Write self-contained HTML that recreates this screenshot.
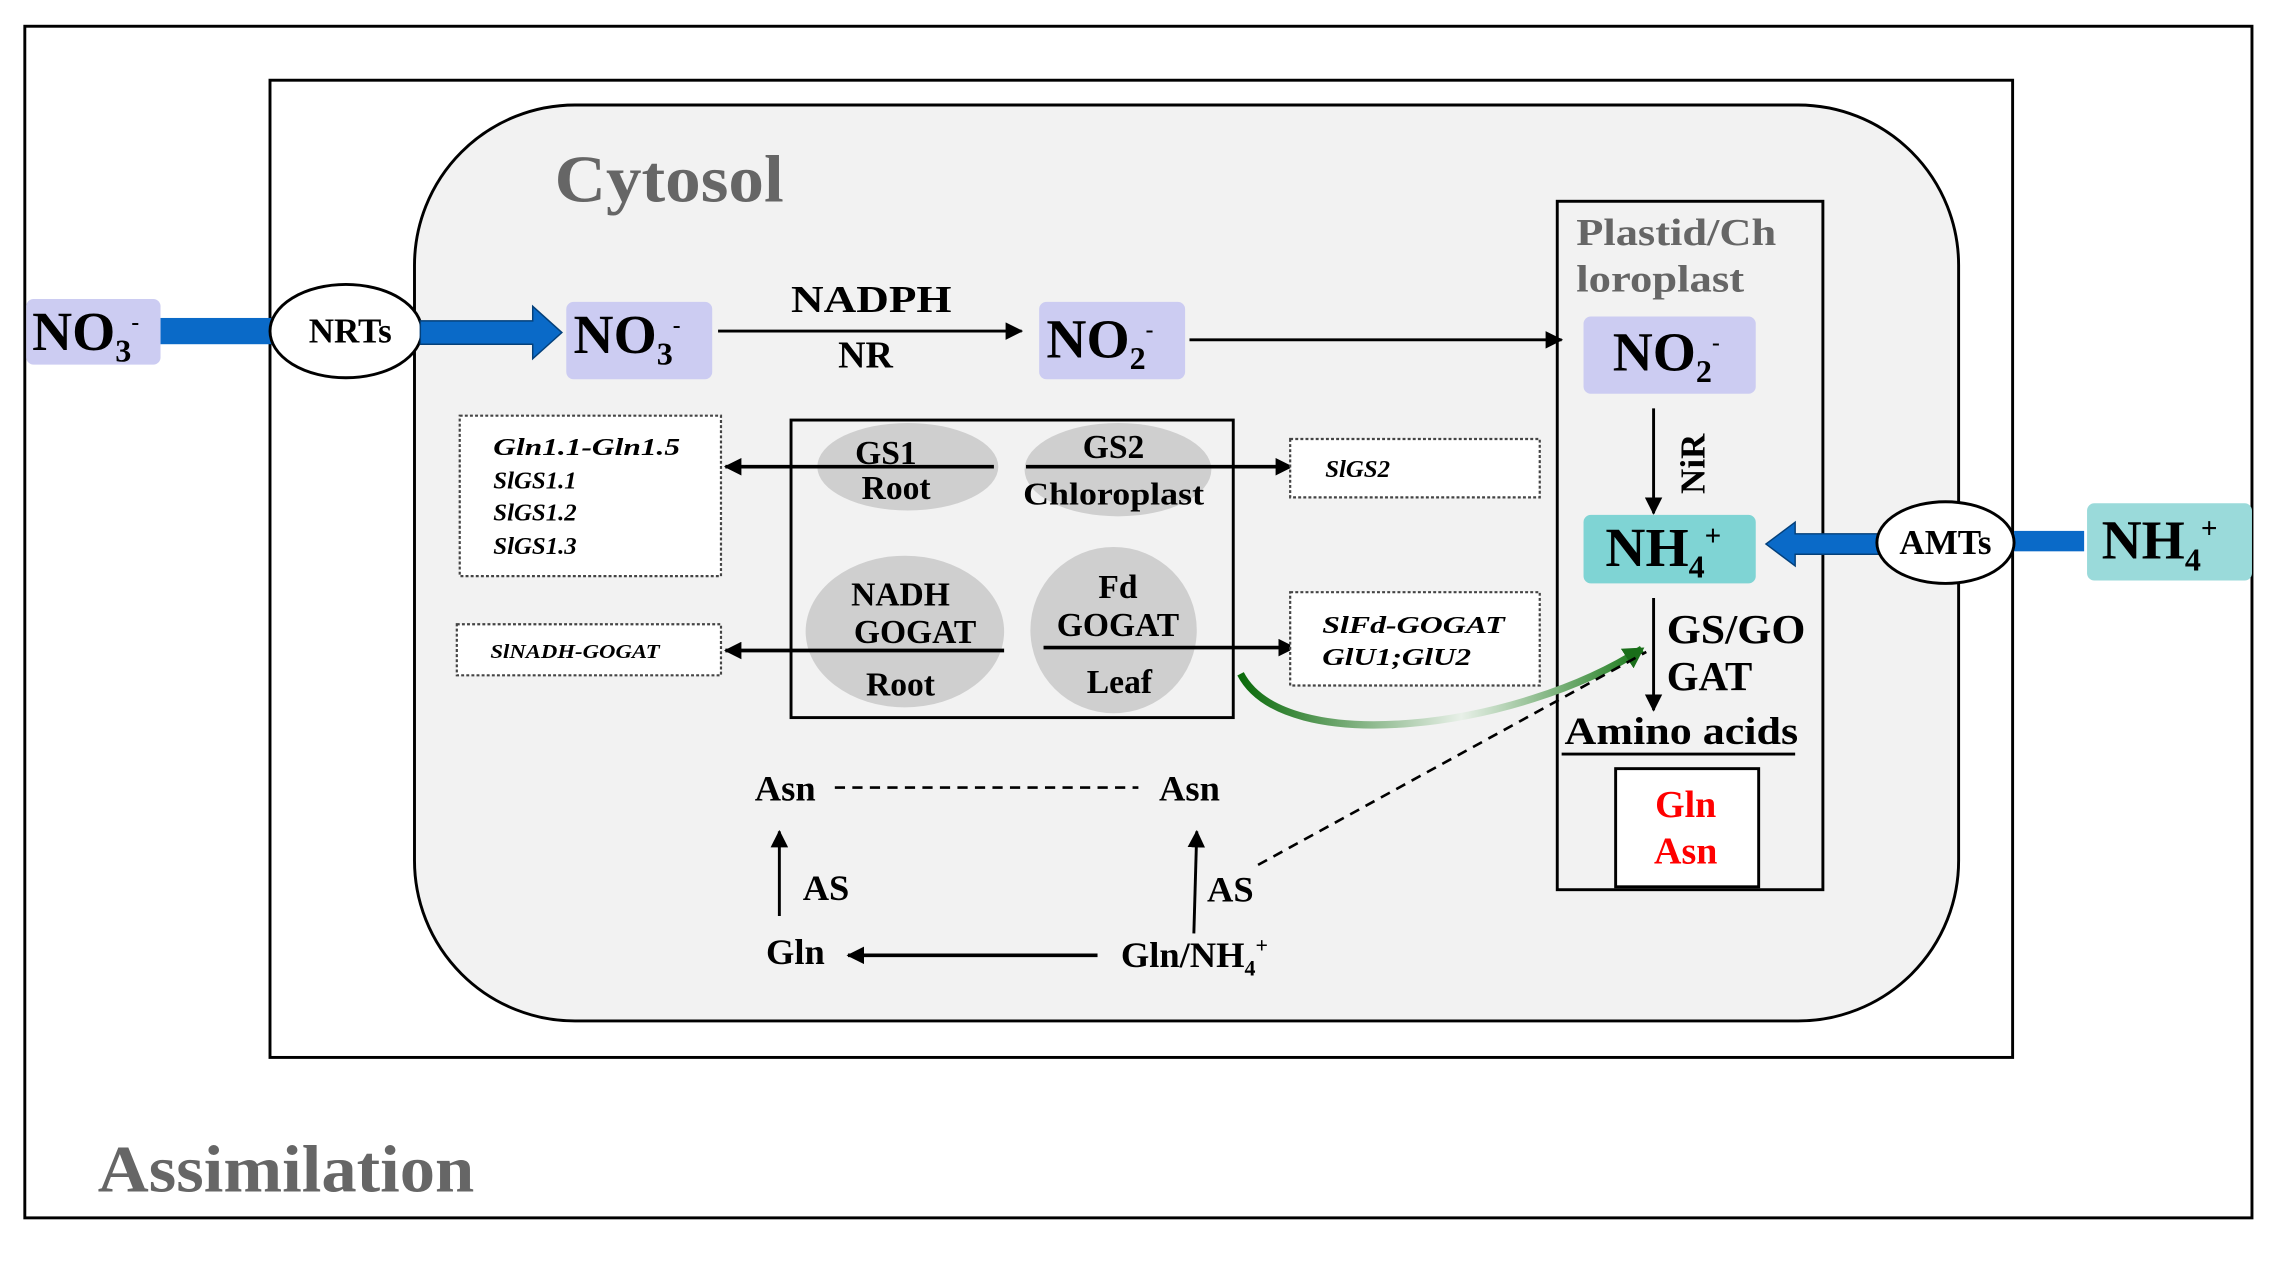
<!DOCTYPE html>
<html><head><meta charset="utf-8"><style>html,body{margin:0;padding:0;background:#fff}svg{display:block}text{}</style></head>
<body>
<svg width="2287" height="1266" viewBox="0 0 1567 868" preserveAspectRatio="none" xmlns="http://www.w3.org/2000/svg" font-family="'Liberation Serif',serif" font-weight="bold">
<defs>
<marker id="ah" markerWidth="12" markerHeight="12" refX="11" refY="6" orient="auto" markerUnits="userSpaceOnUse"><path d="M0,0 L12,6 L0,12 Z" fill="#000"/></marker>
<marker id="ag" markerWidth="16" markerHeight="16" refX="12" refY="8" orient="auto" markerUnits="userSpaceOnUse"><path d="M0,0 L14,8 L0,16 Z" fill="#1a6e1a"/></marker>
<linearGradient id="gg" x1="0" x2="1"><stop offset="0" stop-color="#0a6a0a"/><stop offset="0.55" stop-color="#e8f0e8"/><stop offset="1" stop-color="#1a7a1a"/></linearGradient>
</defs>
<rect x="17" y="18" width="1526" height="817" fill="#fff" stroke="#000" stroke-width="2"/>
<rect x="185" y="55" width="1194" height="670" fill="#fff" stroke="#000" stroke-width="2"/>
<rect x="284" y="72" width="1058" height="628" rx="110" fill="#f2f2f2" stroke="#000" stroke-width="2"/>
<text x="380" y="138" font-size="46" fill="#666" textLength="157" lengthAdjust="spacingAndGlyphs">Cytosol</text>
<rect x="1067" y="138" width="182" height="472" fill="none" stroke="#000" stroke-width="2"/>
<text x="1080" y="168" font-size="26" fill="#666" textLength="137" lengthAdjust="spacingAndGlyphs">Plastid/Ch</text>
<text x="1080" y="200" font-size="26" fill="#666" textLength="115" lengthAdjust="spacingAndGlyphs">loroplast</text>

<rect x="18" y="205" width="92" height="45" rx="5" fill="#ccccf2"/>
<text x="22" y="240" font-size="38">NO<tspan font-size="22" dy="8">3</tspan><tspan font-size="16" dy="-22">-</tspan></text>
<rect x="110" y="218" width="78" height="18" fill="#0a6ac8"/>
<ellipse cx="237" cy="227" rx="52" ry="32" fill="#fff" stroke="#000" stroke-width="2"/>
<text x="240" y="235" font-size="24" text-anchor="middle">NRTs</text>
<path d="M288,220 L365,220 L365,210 L385,228 L365,246 L365,236 L288,236 Z" fill="#0a6ac8" stroke="#04407a" stroke-width="1"/>
<rect x="388" y="207" width="100" height="53" rx="5" fill="#ccccf2"/>
<text x="393" y="242" font-size="38">NO<tspan font-size="22" dy="8">3</tspan><tspan font-size="16" dy="-22">-</tspan></text>
<text x="542" y="214" font-size="26" textLength="110" lengthAdjust="spacingAndGlyphs">NADPH</text>
<text x="593" y="252" font-size="26" text-anchor="middle">NR</text>
<line x1="492" y1="227" x2="700" y2="227" stroke="#000" stroke-width="2" marker-end="url(#ah)"/>
<rect x="712" y="207" width="100" height="53" rx="5" fill="#ccccf2"/>
<text x="717" y="245" font-size="38">NO<tspan font-size="22" dy="8">2</tspan><tspan font-size="16" dy="-22">-</tspan></text>
<line x1="815" y1="233" x2="1070" y2="233" stroke="#000" stroke-width="2" marker-end="url(#ah)"/>
<rect x="1085" y="217" width="118" height="53" rx="5" fill="#ccccf2"/>
<text x="1105" y="254" font-size="38">NO<tspan font-size="22" dy="8">2</tspan><tspan font-size="16" dy="-22">-</tspan></text>
<line x1="1133" y1="280" x2="1133" y2="352" stroke="#000" stroke-width="2" marker-end="url(#ah)"/>
<text x="1160" y="318" font-size="24" transform="rotate(-90 1160 318)" text-anchor="middle" dy="8">NiR</text>
<rect x="1085" y="353" width="118" height="47" rx="5" fill="#7fd4d4"/>
<text x="1100" y="388" font-size="38">NH<tspan font-size="22" dy="8">4</tspan><tspan font-size="20" dy="-22">+</tspan></text>
<path d="M1288,366 L1230,366 L1230,358 L1210,373 L1230,388 L1230,380 L1288,380 Z" fill="#0a6ac8" stroke="#04407a" stroke-width="1"/>
<rect x="1380" y="364" width="48" height="14" fill="#0a6ac8"/>
<ellipse cx="1333" cy="372" rx="47" ry="28" fill="#fff" stroke="#000" stroke-width="2"/>
<text x="1333" y="380" font-size="24" text-anchor="middle">AMTs</text>
<rect x="1430" y="345" width="113" height="53" rx="5" fill="#9adada"/>
<text x="1440" y="383" font-size="38">NH<tspan font-size="22" dy="8">4</tspan><tspan font-size="20" dy="-22">+</tspan></text>

<line x1="1133" y1="410" x2="1133" y2="487" stroke="#000" stroke-width="2" marker-end="url(#ah)"/>
<text x="1142" y="441" font-size="28" textLength="95" lengthAdjust="spacingAndGlyphs">GS/GO</text>
<text x="1142" y="473" font-size="28">GAT</text>
<text x="1072" y="510" font-size="27" textLength="160" lengthAdjust="spacingAndGlyphs">Amino acids</text>
<line x1="1070" y1="517" x2="1230" y2="517" stroke="#000" stroke-width="2"/>
<rect x="1107" y="527" width="98" height="81" fill="#fff" stroke="#000" stroke-width="2"/>
<text x="1155" y="560" font-size="26" fill="#f00" text-anchor="middle">Gln</text>
<text x="1155" y="592" font-size="26" fill="#f00" text-anchor="middle">Asn</text>

<rect x="542" y="288" width="303" height="204" fill="#f2f2f2" stroke="#000" stroke-width="2"/>
<ellipse cx="622" cy="320" rx="62" ry="30" fill="#cfcfcf"/>
<ellipse cx="766" cy="322" rx="64" ry="32" fill="#cfcfcf"/>
<ellipse cx="620" cy="433" rx="68" ry="52" fill="#cfcfcf"/>
<ellipse cx="763" cy="432" rx="57" ry="57" fill="#cfcfcf"/>
<text x="607" y="318" font-size="23" text-anchor="middle">GS1</text>
<text x="614" y="342" font-size="23" text-anchor="middle">Root</text>
<text x="763" y="314" font-size="23" text-anchor="middle">GS2</text>
<text x="701" y="346" font-size="22" textLength="124" lengthAdjust="spacingAndGlyphs">Chloroplast</text>
<text x="617" y="415" font-size="23" text-anchor="middle">NADH</text>
<text x="627" y="441" font-size="23" text-anchor="middle">GOGAT</text>
<text x="617" y="477" font-size="23" text-anchor="middle">Root</text>
<text x="766" y="410" font-size="23" text-anchor="middle">Fd</text>
<text x="766" y="436" font-size="23" text-anchor="middle">GOGAT</text>
<text x="767" y="475" font-size="23" text-anchor="middle">Leaf</text>
<line x1="681" y1="320" x2="497" y2="320" stroke="#000" stroke-width="2.5" marker-end="url(#ah)"/>
<line x1="703" y1="320" x2="885" y2="320" stroke="#000" stroke-width="2.5" marker-end="url(#ah)"/>
<line x1="688" y1="446" x2="497" y2="446" stroke="#000" stroke-width="2.5" marker-end="url(#ah)"/>
<line x1="715" y1="444" x2="887" y2="444" stroke="#000" stroke-width="2.5" marker-end="url(#ah)"/>

<g fill="#fff" stroke="#444" stroke-width="1.5" stroke-dasharray="2,1.5">
<rect x="315" y="285" width="179" height="110"/>
<rect x="884" y="301" width="171" height="40"/>
<rect x="313" y="428" width="181" height="35"/>
<rect x="884" y="406" width="171" height="64"/>
</g>
<g font-style="italic" font-size="17">
<text x="338" y="312" textLength="128" lengthAdjust="spacingAndGlyphs">Gln1.1-Gln1.5</text>
<text x="338" y="335">SlGS1.1</text>
<text x="338" y="357">SlGS1.2</text>
<text x="338" y="380">SlGS1.3</text>
<text x="908" y="327">SlGS2</text>
<text x="336" y="451" font-size="14" textLength="116" lengthAdjust="spacingAndGlyphs">SlNADH-GOGAT</text>
<text x="906" y="434" textLength="125" lengthAdjust="spacingAndGlyphs">SlFd-GOGAT</text>
<text x="906" y="456" textLength="102" lengthAdjust="spacingAndGlyphs">GlU1;GlU2</text>
</g>

<path d="M850,462 C880,520 1040,500 1125,445" fill="none" stroke="url(#gg)" stroke-width="5" marker-end="url(#ag)"/>
<line x1="862" y1="593" x2="1128" y2="447" stroke="#000" stroke-width="1.8" stroke-dasharray="7,5"/>

<text x="538" y="549" font-size="25" text-anchor="middle">Asn</text>
<line x1="572" y1="540" x2="780" y2="540" stroke="#000" stroke-width="1.8" stroke-dasharray="7,5"/>
<text x="815" y="549" font-size="25" text-anchor="middle">Asn</text>
<line x1="534" y1="628" x2="534" y2="570" stroke="#000" stroke-width="2" marker-end="url(#ah)"/>
<text x="550" y="617" font-size="25">AS</text>
<line x1="818" y1="640" x2="820" y2="570" stroke="#000" stroke-width="2" marker-end="url(#ah)"/>
<text x="827" y="618" font-size="25">AS</text>
<text x="545" y="661" font-size="25" text-anchor="middle">Gln</text>
<line x1="752" y1="655" x2="581" y2="655" stroke="#000" stroke-width="2.5" marker-end="url(#ah)"/>
<text x="768" y="663" font-size="25">Gln/NH<tspan font-size="15" dy="6">4</tspan><tspan font-size="15" dy="-16">+</tspan></text>

<text x="67" y="817" font-size="46" fill="#666" textLength="258" lengthAdjust="spacingAndGlyphs">Assimilation</text>
</svg>
</body></html>
